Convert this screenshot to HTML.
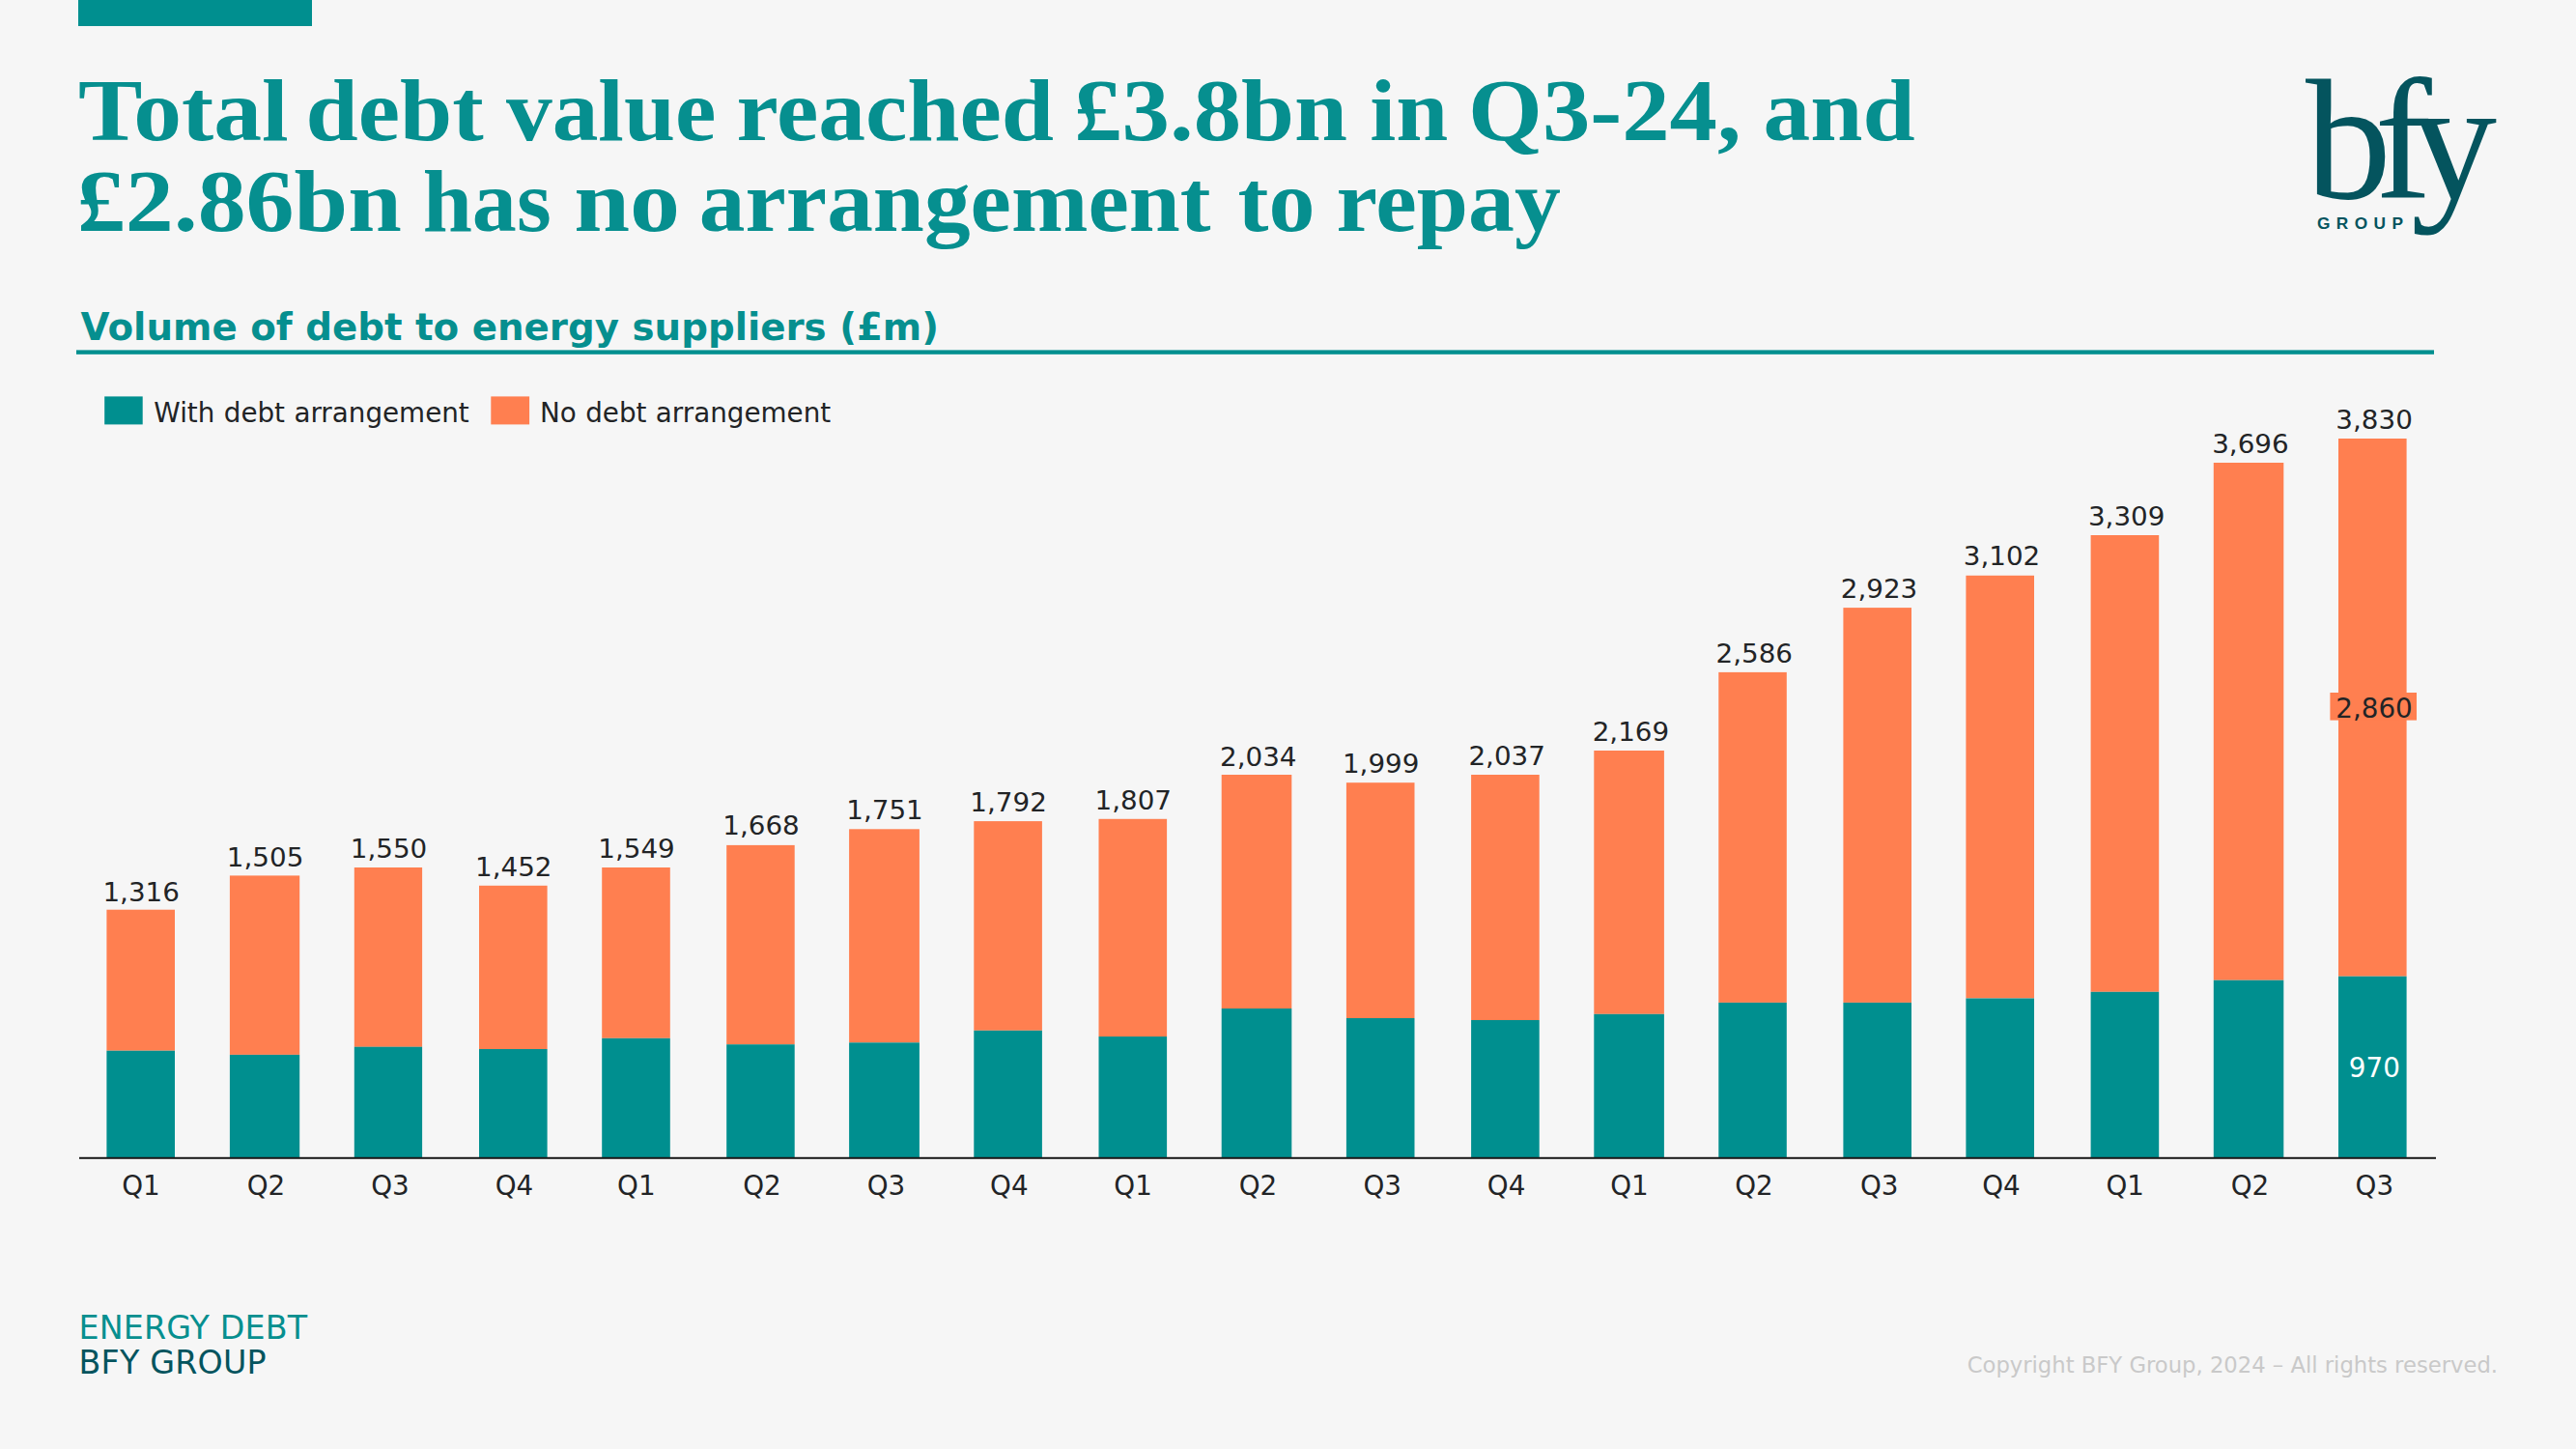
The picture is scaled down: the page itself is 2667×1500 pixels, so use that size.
<!DOCTYPE html>
<html lang="en">
<head>
<meta charset="utf-8">
<title>Total debt value reached £3.8bn in Q3-24</title>
<style>
html,body{margin:0;padding:0;background:#F6F6F6;}
body{width:2667px;height:1500px;overflow:hidden;position:relative;}
svg{position:absolute;left:0;top:0;display:block;}
.t{font-family:"Liberation Serif","DejaVu Serif",serif;font-weight:bold;fill:#068F8F;}
.s{font-family:"DejaVu Sans","Liberation Sans",sans-serif;}
.lbl{font-family:"DejaVu Sans","Liberation Sans",sans-serif;font-size:27.78px;fill:#222426;text-anchor:middle;}
</style>
</head>
<body>
<svg width="2667" height="1500" viewBox="0 0 2667 1500">
<rect x="0" y="0" width="2667" height="1500" fill="#F6F6F6"/>
<rect x="81" y="0" width="242" height="27" fill="#008F8F"/>
<text class="t" y="144.5" font-size="90"><tspan x="81.0" textLength="217.7" lengthAdjust="spacingAndGlyphs">Total</tspan> <tspan x="316.6" textLength="184.1" lengthAdjust="spacingAndGlyphs">debt</tspan> <tspan x="523.9" textLength="217.5" lengthAdjust="spacingAndGlyphs">value</tspan> <tspan x="762.4" textLength="328.7" lengthAdjust="spacingAndGlyphs">reached</tspan> <tspan x="1112.1" textLength="283.0" lengthAdjust="spacingAndGlyphs">£3.8bn</tspan> <tspan x="1418.2" textLength="81.0" lengthAdjust="spacingAndGlyphs">in</tspan> <tspan x="1520.1" textLength="282.6" lengthAdjust="spacingAndGlyphs">Q3-24,</tspan> <tspan x="1825.6" textLength="157.0" lengthAdjust="spacingAndGlyphs">and</tspan></text>
<text class="t" y="238.7" font-size="90"><tspan x="79.7" textLength="336.1" lengthAdjust="spacingAndGlyphs">£2.86bn</tspan> <tspan x="437.7" textLength="133.0" lengthAdjust="spacingAndGlyphs">has</tspan> <tspan x="594.2" textLength="109.8" lengthAdjust="spacingAndGlyphs">no</tspan> <tspan x="723.8" textLength="529.8" lengthAdjust="spacingAndGlyphs">arrangement</tspan> <tspan x="1281.5" textLength="79.9" lengthAdjust="spacingAndGlyphs">to</tspan> <tspan x="1383.4" textLength="232.5" lengthAdjust="spacingAndGlyphs">repay</tspan></text>
<text class="s" x="83.6" y="352" font-size="38.78" font-weight="bold" fill="#068F8F">Volume of debt to energy suppliers (£m)</text>
<rect x="79" y="362.4" width="2441" height="4.4" fill="#008F8F"/>
<rect x="108.2" y="410.4" width="39.5" height="29" fill="#008F8F"/>
<text class="s" x="159.3" y="436.8" font-size="27.78" word-spacing="0.6" fill="#222426">With debt arrangement</text>
<rect x="508.3" y="410.4" width="39.8" height="29" fill="#FF7F50"/>
<text class="s" x="559" y="436.8" font-size="27.78" word-spacing="0.6" fill="#222426">No debt arrangement</text>
<rect x="110.4" y="941.7" width="70.6" height="146.0" fill="#FF7F50"/><rect x="110.4" y="1087.7" width="70.6" height="110.8" fill="#008F8F"/><text class="lbl" transform="translate(146.2,932.5) scale(1,0.94)">1,316</text><text class="lbl" x="146.0" y="1236.9">Q1</text>
<rect x="237.9" y="906.4" width="72.3" height="185.5" fill="#FF7F50"/><rect x="237.9" y="1091.9" width="72.3" height="106.6" fill="#008F8F"/><text class="lbl" transform="translate(274.6,896.5) scale(1,0.94)">1,505</text><text class="lbl" x="275.4" y="1236.9">Q2</text>
<rect x="366.8" y="898.0" width="70.3" height="185.8" fill="#FF7F50"/><rect x="366.8" y="1083.7" width="70.3" height="114.8" fill="#008F8F"/><text class="lbl" transform="translate(402.5,887.8) scale(1,0.94)">1,550</text><text class="lbl" x="404.0" y="1236.9">Q3</text>
<rect x="496.0" y="916.8" width="70.6" height="169.2" fill="#FF7F50"/><rect x="496.0" y="1086.0" width="70.6" height="112.5" fill="#008F8F"/><text class="lbl" transform="translate(531.8,906.6) scale(1,0.94)">1,452</text><text class="lbl" x="532.5" y="1236.9">Q4</text>
<rect x="623.2" y="898.0" width="70.6" height="176.8" fill="#FF7F50"/><rect x="623.2" y="1074.8" width="70.6" height="123.7" fill="#008F8F"/><text class="lbl" transform="translate(659.0,887.8) scale(1,0.94)">1,549</text><text class="lbl" x="658.8" y="1236.9">Q1</text>
<rect x="752.2" y="874.9" width="70.5" height="206.3" fill="#FF7F50"/><rect x="752.2" y="1081.2" width="70.5" height="117.3" fill="#008F8F"/><text class="lbl" transform="translate(788.0,864.0) scale(1,0.94)">1,668</text><text class="lbl" x="788.9" y="1236.9">Q2</text>
<rect x="879.1" y="858.3" width="72.8" height="221.0" fill="#FF7F50"/><rect x="879.1" y="1079.3" width="72.8" height="119.2" fill="#008F8F"/><text class="lbl" transform="translate(916.0,847.8) scale(1,0.94)">1,751</text><text class="lbl" x="917.5" y="1236.9">Q3</text>
<rect x="1008.3" y="850.1" width="70.6" height="216.7" fill="#FF7F50"/><rect x="1008.3" y="1066.8" width="70.6" height="131.7" fill="#008F8F"/><text class="lbl" transform="translate(1044.1,840.4) scale(1,0.94)">1,792</text><text class="lbl" x="1044.8" y="1236.9">Q4</text>
<rect x="1137.5" y="847.8" width="70.6" height="225.2" fill="#FF7F50"/><rect x="1137.5" y="1073.0" width="70.6" height="125.5" fill="#008F8F"/><text class="lbl" transform="translate(1173.3,837.6) scale(1,0.94)">1,807</text><text class="lbl" x="1173.1" y="1236.9">Q1</text>
<rect x="1264.7" y="802.0" width="72.6" height="242.0" fill="#FF7F50"/><rect x="1264.7" y="1044.0" width="72.6" height="154.5" fill="#008F8F"/><text class="lbl" transform="translate(1302.8,793.1) scale(1,0.94)">2,034</text><text class="lbl" x="1302.4" y="1236.9">Q2</text>
<rect x="1393.9" y="810.2" width="70.6" height="243.8" fill="#FF7F50"/><rect x="1393.9" y="1054.0" width="70.6" height="144.5" fill="#008F8F"/><text class="lbl" transform="translate(1429.7,800.3) scale(1,0.94)">1,999</text><text class="lbl" x="1431.2" y="1236.9">Q3</text>
<rect x="1523.1" y="802.0" width="70.6" height="254.0" fill="#FF7F50"/><rect x="1523.1" y="1056.0" width="70.6" height="142.5" fill="#008F8F"/><text class="lbl" transform="translate(1560.2,792.1) scale(1,0.94)">2,037</text><text class="lbl" x="1559.6" y="1236.9">Q4</text>
<rect x="1650.3" y="777.0" width="72.6" height="272.8" fill="#FF7F50"/><rect x="1650.3" y="1049.8" width="72.6" height="148.7" fill="#008F8F"/><text class="lbl" transform="translate(1688.4,766.8) scale(1,0.94)">2,169</text><text class="lbl" x="1686.9" y="1236.9">Q1</text>
<rect x="1779.3" y="695.9" width="70.5" height="342.0" fill="#FF7F50"/><rect x="1779.3" y="1037.9" width="70.5" height="160.6" fill="#008F8F"/><text class="lbl" transform="translate(1816.3,686.0) scale(1,0.94)">2,586</text><text class="lbl" x="1816.0" y="1236.9">Q2</text>
<rect x="1908.4" y="629.1" width="70.6" height="408.8" fill="#FF7F50"/><rect x="1908.4" y="1037.9" width="70.6" height="160.6" fill="#008F8F"/><text class="lbl" transform="translate(1945.5,619.4) scale(1,0.94)">2,923</text><text class="lbl" x="1945.7" y="1236.9">Q3</text>
<rect x="2035.4" y="595.8" width="70.6" height="437.7" fill="#FF7F50"/><rect x="2035.4" y="1033.5" width="70.6" height="165.0" fill="#008F8F"/><text class="lbl" transform="translate(2072.5,585.1) scale(1,0.94)">3,102</text><text class="lbl" x="2071.9" y="1236.9">Q4</text>
<rect x="2164.6" y="554.0" width="70.6" height="472.8" fill="#FF7F50"/><rect x="2164.6" y="1026.8" width="70.6" height="171.7" fill="#008F8F"/><text class="lbl" transform="translate(2201.7,544.3) scale(1,0.94)">3,309</text><text class="lbl" x="2200.2" y="1236.9">Q1</text>
<rect x="2291.8" y="479.0" width="72.5" height="535.7" fill="#FF7F50"/><rect x="2291.8" y="1014.7" width="72.5" height="183.8" fill="#008F8F"/><text class="lbl" transform="translate(2329.9,468.9) scale(1,0.94)">3,696</text><text class="lbl" x="2329.5" y="1236.9">Q2</text>
<rect x="2421.0" y="454.0" width="70.6" height="556.7" fill="#FF7F50"/><rect x="2421.0" y="1010.7" width="70.6" height="187.8" fill="#008F8F"/><text class="lbl" transform="translate(2458.1,444.1) scale(1,0.94)">3,830</text><text class="lbl" x="2458.3" y="1236.9">Q3</text>
<rect x="2412.4" y="717" width="89.6" height="28.6" fill="#FF7F50"/>
<text class="lbl" x="2458" y="742.5">2,860</text>
<text class="lbl" x="2458.3" y="1115.2" style="fill:#FFFFFF">970</text>
<rect x="82" y="1197.8" width="2440" height="2" fill="#1a1a1a"/>
<text class="s" x="81.5" y="1386.3" font-size="33.3" letter-spacing="0.15" fill="#068F8F">ENERGY DEBT</text>
<text class="s" x="81.5" y="1422.1" font-size="33.3" letter-spacing="0.2" fill="#04545E">BFY GROUP</text>
<text class="s" x="2586" y="1420.8" font-size="22.7" fill="#C9C9C9" text-anchor="end">Copyright BFY Group, 2024 – All rights reserved.</text>
<g id="logo" fill="#04545E">
<text y="205" font-family="'Liberation Serif','DejaVu Serif',serif" font-size="178"><tspan x="2387">b</tspan><tspan x="2458.5">f</tspan><tspan x="2496">y</tspan></text>
<text x="2399" y="236.5" font-family="'Liberation Sans','DejaVu Sans',sans-serif" font-size="17.3" font-weight="bold" letter-spacing="6.4">GROUP</text>
</g>
</svg>
</body>
</html>
